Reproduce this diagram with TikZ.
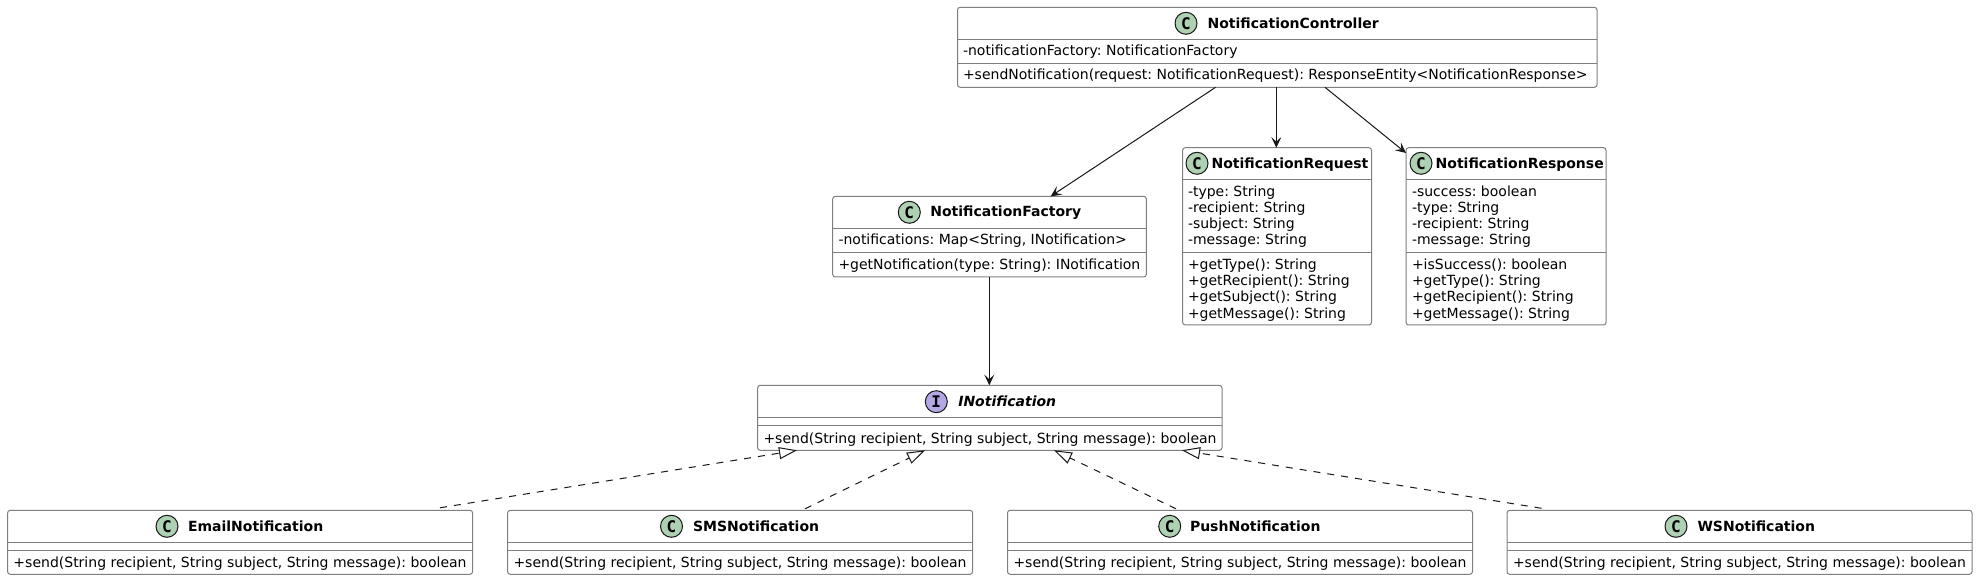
\documentclass[tikz,border=0pt]{standalone}
\usepackage{fontspec}
\setmainfont{DejaVu Sans}
\newfontfamily\glyphfont{DejaVu Sans Mono}
\usetikzlibrary{arrows.meta}
\definecolor{boxline}{HTML}{7F7F7F}
\definecolor{wireline}{HTML}{181818}
\definecolor{classgreen}{HTML}{ADD1B2}
\definecolor{ifacepurple}{HTML}{B4A7E5}
\tikzset{
  umlbox/.style={draw=boxline,fill=white,line width=0.75pt,rounded corners=2pt,inner sep=0pt,outer sep=0pt},
  divider/.style={draw=boxline,line width=0.75pt},
  membertext/.style={anchor=base west,inner sep=0pt,outer sep=0pt,font=\frenchspacing\fontsize{10.5pt}{12pt}\selectfont,text=black},
  titletext/.style={anchor=base west,inner sep=0pt,outer sep=0pt,font=\fontsize{10.5pt}{12pt}\selectfont\bfseries,text=black},
  ifacetitle/.style={titletext,font=\fontsize{10.5pt}{12pt}\selectfont\bfseries\itshape},
  badge/.style={circle,draw=wireline,line width=0.75pt,minimum size=16.5pt,inner sep=0pt,outer sep=0pt,text=black,font=\glyphfont\fontsize{12pt}{12pt}\selectfont\bfseries},
  classbadge/.style={badge,fill=classgreen},
  ifacebadge/.style={badge,fill=ifacepurple},
  assoc/.style={draw=wireline,line width=0.75pt,-{Stealth[length=8pt,width=7.5pt,inset=3.5pt]}},
  realize/.style={draw=wireline,line width=0.75pt,dash pattern=on 5.25pt off 5.25pt,-{Triangle[open,length=13.5pt,width=9pt,fill=white]}}
}
\newcommand{\umlrect}[6]{%
  \node[umlbox,minimum width={(#3-#2)*0.75pt},minimum height={(#5-#4)*0.75pt}] (#1) at ({(#2+#3)/2},{(#4+#5)/2}) {};
  \foreach \dy in {#6} {\draw[divider] (#1.west |- 0,\dy) -- (#1.east |- 0,\dy);}
}
\newcommand{\memberrow}[4]{\node[membertext] (#1) at (#2,#3) {#4};}
\begin{document}
\begin{tikzpicture}[x=0.75pt,y=-0.75pt]
\useasboundingbox (0,0) rectangle (1978,580);
\fill[white] (0,0) rectangle (1978,580);

% NotificationController
\umlrect{ctrl}{957.5}{1597}{7.3}{87.3}{39.3,63.3}
\node[classbadge] (ctrlC) at (1186,23.3) {C};
\node[titletext] (ctrlT) at (1207.6,28.3) {NotificationController};
\memberrow{ctrlA}{963}{55.5}{-notificationFactory: NotificationFactory}
\memberrow{ctrlM}{963}{80}{+sendNotification(request: NotificationRequest): ResponseEntity<NotificationResponse>}

% NotificationFactory
\umlrect{fact}{832.7}{1146.3}{196.3}{277}{228.3,252.3}
\node[classbadge] (factC) at (909.3,212.3) {C};
\node[titletext] (factT) at (930.3,217) {NotificationFactory};
\memberrow{factA}{838.5}{245}{-notifications: Map<String, INotification>}
\memberrow{factM}{838.5}{270}{+getNotification(type: String): INotification}

% NotificationRequest
\umlrect{req}{1182.6}{1371.5}{147.7}{325}{179.3,252.3}
\node[classbadge] (reqC) at (1197,163.3) {C};
\node[titletext] (reqT) at (1211.6,168.3) {NotificationRequest};
\memberrow{reqA1}{1188}{197}{-type: String}
\memberrow{reqA2}{1188}{213}{-recipient: String}
\memberrow{reqA3}{1188}{229}{-subject: String}
\memberrow{reqA4}{1188}{245}{-message: String}
\memberrow{reqM1}{1188}{270}{+getType(): String}
\memberrow{reqM2}{1188}{286}{+getRecipient(): String}
\memberrow{reqM3}{1188}{302}{+getSubject(): String}
\memberrow{reqM4}{1188}{318.5}{+getMessage(): String}

% NotificationResponse
\umlrect{resp}{1406}{1606}{147.7}{325}{179.3,252.3}
\node[classbadge] (respC) at (1421,163.3) {C};
\node[titletext] (respT) at (1435.7,168.3) {NotificationResponse};
\memberrow{respA1}{1412}{197}{-success: boolean}
\memberrow{respA2}{1412}{213}{-type: String}
\memberrow{respA3}{1412}{229}{-recipient: String}
\memberrow{respA4}{1412}{245}{-message: String}
\memberrow{respM1}{1412}{270}{+isSuccess(): boolean}
\memberrow{respM2}{1412}{286}{+getType(): String}
\memberrow{respM3}{1412}{302}{+getRecipient(): String}
\memberrow{respM4}{1412}{318.5}{+getMessage(): String}

% INotification
\umlrect{iface}{757.6}{1222}{385.3}{450.3}{417.3,425.3}
\node[ifacebadge] (ifaceC) at (936.3,401.7) {I};
\node[ifacetitle] (ifaceT) at (958.3,406.5) {INotification};
\memberrow{ifaceM}{763.5}{443.3}{+send(String recipient, String subject, String message): boolean}

% Implementations
\umlrect{email}{7.6}{472.6}{510.3}{574.3}{542.3,550.3}
\node[classbadge] (emailC) at (167,526.3) {C};
\node[titletext] (emailT) at (188,531.3) {EmailNotification};
\memberrow{emailM}{13.5}{567.5}{+send(String recipient, String subject, String message): boolean}

\umlrect{sms}{507.6}{972.6}{510.3}{574.3}{542.3,550.3}
\node[classbadge] (smsC) at (671.5,526.3) {C};
\node[titletext] (smsT) at (693,531.3) {SMSNotification};
\memberrow{smsM}{513.5}{567.5}{+send(String recipient, String subject, String message): boolean}

\umlrect{push}{1007.5}{1472.5}{510.3}{574.3}{542.3,550.3}
\node[classbadge] (pushC) at (1169.7,526.3) {C};
\node[titletext] (pushT) at (1190,531.3) {PushNotification};
\memberrow{pushM}{1013.5}{567.5}{+send(String recipient, String subject, String message): boolean}

\umlrect{ws}{1507}{1972}{510.3}{574.3}{542.3,550.3}
\node[classbadge] (wsC) at (1676,526.3) {C};
\node[titletext] (wsT) at (1697.5,531.3) {WSNotification};
\memberrow{wsM}{1513}{567.5}{+send(String recipient, String subject, String message): boolean}

% Associations
\draw[assoc] (1215.6,0 |- ctrl.south) -- (1050.7,0 |- fact.north);
\draw[assoc] (1276.3,0 |- ctrl.south) -- (1276.3,0 |- req.north);
\draw[assoc] (1325,0 |- ctrl.south) -- (resp.west |- 0,153);
\draw[assoc] (989.3,0 |- fact.south) -- (989.3,0 |- iface.north);

% Realizations
\draw[realize] (440,0 |- email.north) ++(0,-2.5) -- (797,0 |- iface.south);
\draw[realize] (805,0 |- sms.north) ++(0,-1.5) -- (925,0 |- iface.south);
\draw[realize] (1176,0 |- push.north) ++(0,-1.5) -- (1054,0 |- iface.south);
\draw[realize] (1541.5,0 |- ws.north) ++(0,-2) -- (1182,0 |- iface.south);
\end{tikzpicture}
\end{document}
